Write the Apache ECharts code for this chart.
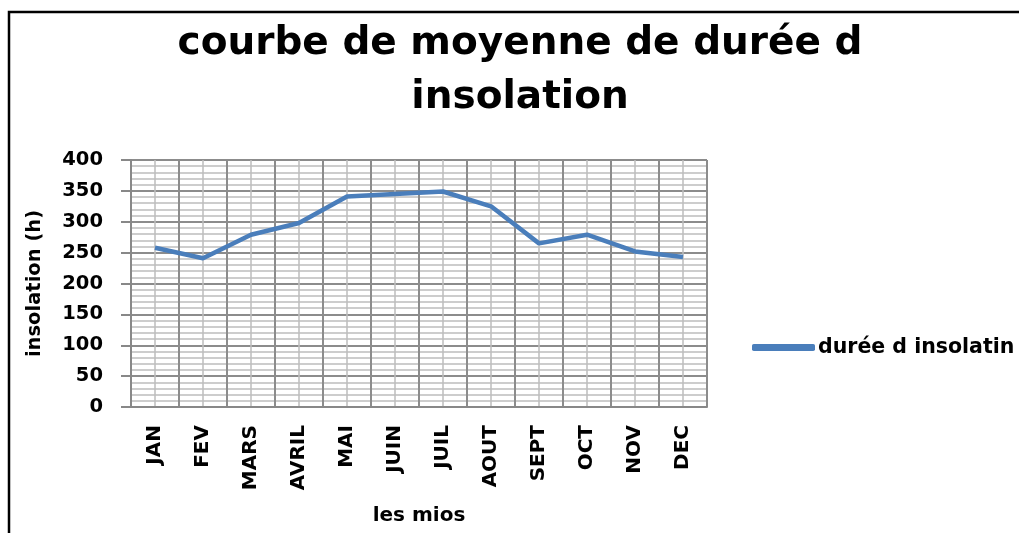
<!DOCTYPE html>
<html>
<head>
<meta charset="utf-8">
<script src="https://cdn.jsdelivr.net/npm/echarts@6/dist/echarts.min.js"></script>
<style>
  html, body { margin: 0; padding: 0; background: #fff; }
  #chart { width: 1019px; height: 533px; }
</style>
</head>
<body>
<div id="chart"></div>
<script>
// données
var months = ['JAN', 'FEV', 'MARS', 'AVRIL', 'MAI', 'JUIN', 'JUIL', 'AOUT', 'SEPT', 'OCT', 'NOV', 'DEC'];
var insolation = [258, 241, 279, 298, 341, 345, 349, 325, 265, 279, 252, 243];
var yTicks = [0, 50, 100, 150, 200, 250, 300, 350, 400];

var seriesName = 'durée d insolatin';
var FONT = 'DejaVu Sans';

var myChart = echarts.init(document.getElementById('chart'));

var options = {
    animation: false,
    backgroundColor: '#fff',
    title: {
        text: 'courbe de moyenne de durée d\ninsolation',
        left: 515,
        top: 12,
        textAlign: 'center',
        textStyle: {
            fontFamily: FONT,
            fontSize: 39,
            fontWeight: 'bold',
            color: '#000',
            lineHeight: 54
        }
    },
    legend: {
        left: 752,
        top: 337,
        padding: 0,
        icon: 'roundRect',
        itemWidth: 63,
        itemHeight: 7,
        itemGap: 5,
        data: [seriesName],
        textStyle: {
            fontFamily: FONT,
            fontSize: 20.5,
            fontWeight: 'bold',
            color: '#000',
            padding: [0, 0, 0, -2]
        }
    },
    grid: {
        left: 131,
        right: 312,
        top: 160,
        bottom: 126
    },
    xAxis: [
        {
            type: 'category',
            data: months,
            boundaryGap: true,
            name: 'les mios',
            nameLocation: 'middle',
            nameGap: 99,
            nameTextStyle: {
                fontFamily: FONT,
                fontSize: 20,
                fontWeight: 'bold',
                color: '#000'
            },
            axisLine: { lineStyle: { color: '#888', width: 2 } },
            axisTick: { length: 10, lineStyle: { color: '#888', width: 2 } },
            axisLabel: {
                rotate: 90,
                margin: 18,
                fontFamily: FONT,
                fontSize: 20,
                fontWeight: 'bold',
                color: '#000'
            },
            splitLine: { show: false }
        },
        {
            // axe caché qui sert seulement pour le quadrillage vertical
            type: 'value',
            min: 0,
            max: 12,
            interval: 1,
            position: 'bottom',
            axisLine: { show: false },
            axisTick: { show: false },
            axisLabel: { show: false },
            minorTick: { show: false, splitNumber: 2 },
            splitLine: { show: true, lineStyle: { color: '#8c8c8c', width: 2 } },
            minorSplitLine: { show: true, lineStyle: { color: '#bdbdbd', width: 1.5 } }
        }
    ],
    yAxis: {
        type: 'value',
        min: yTicks[0],
        max: yTicks[yTicks.length - 1],
        interval: 50,
        name: 'insolation (h)',
        nameLocation: 'middle',
        nameRotate: 90,
        nameGap: 86,
        nameTextStyle: {
            fontFamily: FONT,
            fontSize: 19.5,
            fontWeight: 'bold',
            color: '#000'
        },
        axisLine: { show: true, lineStyle: { color: '#888', width: 2 } },
        axisTick: { show: true, length: 10, lineStyle: { color: '#888', width: 2 } },
        axisLabel: {
            margin: 28,
            fontFamily: FONT,
            fontSize: 19.5,
            fontWeight: 'bold',
            color: '#000'
        },
        minorTick: { show: false, splitNumber: 5 },
        splitLine: { show: true, lineStyle: { color: '#8c8c8c', width: 2 } },
        minorSplitLine: { show: true, lineStyle: { color: '#bdbdbd', width: 1.5 } }
    },
    graphic: [
        {
            type: 'rect',
            silent: true,
            shape: { x: 9, y: 12, width: 1200, height: 700 },
            style: { fill: 'none', stroke: '#000', lineWidth: 2.5 }
        }
    ],
    series: [
        {
            name: seriesName,
            type: 'line',
            xAxisIndex: 0,
            data: insolation,
            showSymbol: false,
            symbol: 'none',
            lineStyle: { color: '#4a7ebb', width: 4.5 },
            itemStyle: { color: '#4a7ebb' }
        }
    ]
};

myChart.setOption(options);
</script>
</body>
</html>
